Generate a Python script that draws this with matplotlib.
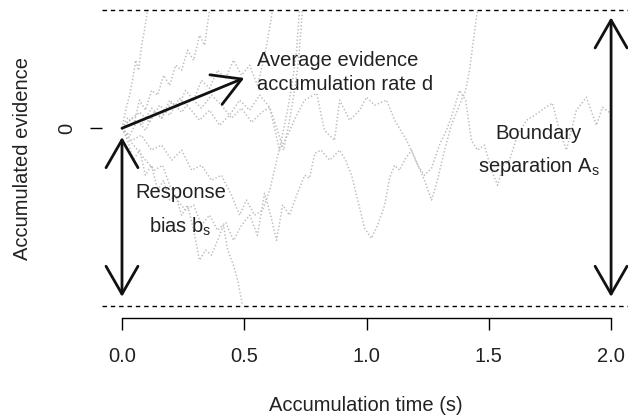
import matplotlib
matplotlib.use("Agg")
import matplotlib.pyplot as plt

plt.rcParams["font.family"] = ["Liberation Sans", "DejaVu Sans"]
plt.rcParams["mathtext.fontset"] = "custom"
plt.rcParams["mathtext.rm"] = "Liberation Sans"
plt.rcParams["mathtext.it"] = "Liberation Sans"

# Diffusion-model parameters (evidence units)
boundary_sep = 1.0      # A_s
bias = 0.6              # b_s: distance of the start point from the lower boundary
drift_end = (0.5, 0.17)  # tip of the mean drift arrow (time, evidence)

x_ticks = [0.0, 0.5, 1.0, 1.5, 2.0]
x_tick_labels = ["0.0", "0.5", "1.0", "1.5", "2.0"]

# Sample accumulation paths: time (s) and accumulated evidence
path1_t = [0, 0.031, 0.064, 0.096, 0.133, 0.166, 0.195, 0.227, 0.260, 0.293, 0.325, 0.358,
           0.391, 0.424, 0.456, 0.489, 0.522, 0.554, 0.583, 0.608, 0.632, 0.657, 0.685, 0.714,
           0.747, 0.767, 0.788, 0.814, 0.849, 0.890, 0.914, 0.939, 0.964, 0.992, 1.020, 1.045,
           1.074, 1.094, 1.115, 1.135, 1.155, 1.184, 1.209, 1.237, 1.266, 1.298, 1.327, 1.352,
           1.380, 1.405, 1.429, 1.454, 1.482, 1.511, 1.536, 1.560, 1.585, 1.617, 1.654, 1.687,
           1.728, 1.760, 1.789, 1.817, 1.838, 1.858, 1.899, 1.940, 1.965, 1.997]
path1_x = [0, -0.041, -0.074, -0.108, -0.142, -0.125, -0.193, -0.243, -0.277, -0.260, -0.328,
           -0.294, -0.345, -0.318, -0.379, -0.328, -0.294, -0.362, -0.220, -0.294, -0.379,
           -0.260, -0.294, -0.227, -0.159, -0.169, -0.085, -0.074, -0.108, -0.074, -0.108,
           -0.159, -0.243, -0.338, -0.372, -0.328, -0.260, -0.169, -0.125, -0.142, -0.108,
           -0.074, -0.125, -0.159, -0.135, -0.057, -0.007, 0.051, 0.128, 0.095, -0.041, -0.074,
           -0.057, -0.142, -0.193, -0.125, -0.108, -0.024, 0.027, 0.044, 0.068, 0.085, -0.007,
           -0.074, -0.007, 0.061, 0.105, 0.010, 0.071, 0.051]

path2_t = [0, 0.015, 0.031, 0.043, 0.056, 0.068, 0.080, 0.092, 0.105]
path2_x = [0, 0.061, 0.112, 0.162, 0.230, 0.196, 0.281, 0.331, 0.4]

path3_t = [0, 0.023, 0.047, 0.072, 0.096, 0.121, 0.146, 0.170, 0.195, 0.219, 0.244, 0.268,
           0.293, 0.317, 0.338, 0.358]
path3_x = [0, 0.034, 0.010, 0.095, 0.061, 0.128, 0.112, 0.179, 0.145, 0.213, 0.196, 0.264,
           0.230, 0.314, 0.281, 0.4]

path4_t = [0, 0.031, 0.064, 0.096, 0.129, 0.162, 0.195, 0.227, 0.260, 0.293, 0.325, 0.358,
           0.391, 0.424, 0.456, 0.489, 0.522, 0.554, 0.579, 0.595, 0.616]
path4_x = [0, -0.024, 0.027, -0.007, 0.054, 0.034, 0.095, 0.068, 0.128, 0.095, 0.162, 0.135,
           0.196, 0.169, 0.230, 0.179, 0.213, 0.145, 0.230, 0.297, 0.4]

path5_t = [0, 0.031, 0.072, 0.113, 0.154, 0.195, 0.235, 0.276, 0.317, 0.358, 0.399, 0.440,
           0.481, 0.522, 0.563, 0.604, 0.636, 0.661, 0.685, 0.706, 0.722, 0.738]
path5_x = [0, 0.027, 0.054, 0.020, 0.078, 0.044, 0.101, 0.068, 0.027, 0.061, 0.010, 0.044,
           0.095, 0.061, 0.112, 0.071, -0.007, -0.074, 0.027, 0.128, 0.230, 0.4]

path6_t = [0, 0.023, 0.047, 0.072, 0.096, 0.121, 0.146, 0.170, 0.195, 0.219, 0.244, 0.268,
           0.293, 0.317, 0.342, 0.366, 0.391, 0.415, 0.432, 0.456, 0.473, 0.493]
path6_x = [0, -0.041, -0.108, -0.074, -0.159, -0.125, -0.210, -0.176, -0.243, -0.227, -0.294,
           -0.260, -0.345, -0.446, -0.412, -0.429, -0.379, -0.328, -0.412, -0.463, -0.514, -0.6]

path7_t = [0, 0.039, 0.080, 0.121, 0.162, 0.203, 0.244, 0.285, 0.325, 0.366, 0.407, 0.448,
           0.489, 0.530, 0.571, 0.604, 0.644, 0.677, 0.714, 0.747, 0.796, 0.828, 0.869, 0.890,
           0.931, 0.972, 1.000, 1.033, 1.082, 1.115, 1.164, 1.196, 1.237, 1.266, 1.290, 1.319,
           1.347, 1.380, 1.405, 1.421, 1.437, 1.454]
path7_x = [0, 0.034, 0.010, 0.068, 0.034, 0.088, 0.054, 0.101, 0.068, 0.112, 0.078, 0.034,
           0.068, 0.020, 0.054, 0.071, -0.074, -0.024, 0.044, 0.095, 0.118, -0.007, -0.041,
           0.095, 0.027, 0.061, 0.105, 0.078, 0.095, 0.027, -0.041, -0.098, -0.176, -0.243,
           -0.176, -0.074, 0.010, 0.078, 0.128, 0.196, 0.297, 0.4]

path8_t = [0, 0.039, 0.080, 0.121, 0.162, 0.203, 0.244, 0.285, 0.325, 0.366, 0.407, 0.448,
           0.481, 0.509, 0.542, 0.575, 0.604, 0.628, 0.652, 0.677, 0.698, 0.714, 0.726]
path8_x = [0, -0.041, -0.024, -0.074, -0.057, -0.108, -0.074, -0.142, -0.125, -0.176, -0.159,
           -0.227, -0.294, -0.243, -0.294, -0.277, -0.210, -0.125, -0.041, 0.061, 0.162,
           0.264, 0.4]

paths = [(path1_t, path1_x), (path2_t, path2_x), (path3_t, path3_x), (path4_t, path4_x),
         (path5_t, path5_x), (path6_t, path6_x), (path7_t, path7_x), (path8_t, path8_x)]

upper = boundary_sep - bias
lower = -bias

fig = plt.figure(figsize=(6.28, 4.19), dpi=100)
ax = fig.add_axes([0.1631, 0.2422, 0.8411, 0.7623])
ax.set_xlim(-0.08, 2.08)
ax.set_ylim(-0.64, 0.44)

for t, x in paths:
    ax.plot(t, x, color="#BDBDBD", lw=1.1, linestyle=(0, (0.9, 1.4)), zorder=1)

ax.axhline(upper, color="black", lw=1, linestyle=(0, (3.2, 2.8)), zorder=2)
ax.axhline(lower, color="black", lw=1, linestyle=(0, (3.2, 2.8)), zorder=2)

head = "head_length=20,head_width=11.5"
arrow_kw = dict(color="#111111", lw=2, shrinkA=0, shrinkB=0, mutation_scale=1)
ax.annotate("", xy=drift_end, xytext=(0, 0),
            arrowprops=dict(arrowstyle="->," + head, **arrow_kw), zorder=3)
ax.annotate("", xy=(0, -0.03), xytext=(0, lower + 0.03),
            arrowprops=dict(arrowstyle="<->," + head, **arrow_kw), zorder=3)
ax.annotate("", xy=(2.0, upper - 0.025), xytext=(2.0, lower + 0.03),
            arrowprops=dict(arrowstyle="<->," + head, **arrow_kw), zorder=3)

fs = 14.5
tc = "#222222"
ax.text(0.554, 0.210, "Average evidence", ha="left", va="baseline", fontsize=fs, color=tc)
ax.text(0.554, 0.128, "accumulation rate d", ha="left", va="baseline", fontsize=fs, color=tc)
ax.text(0.242, -0.237, "Response", ha="center", va="baseline", fontsize=fs, color=tc)
ax.text(0.240, -0.352, r"bias $\mathregular{b_s}$", ha="center", va="baseline", fontsize=fs,
        color=tc)
ax.text(1.703, -0.037, "Boundary", ha="center", va="baseline", fontsize=fs, color=tc)
ax.text(1.703, -0.149, r"separation $\mathregular{A_s}$", ha="center", va="baseline",
        fontsize=fs, color=tc)

for side in ["top", "right", "left"]:
    ax.spines[side].set_visible(False)
ax.spines["bottom"].set_bounds(0, 2)
ax.spines["bottom"].set_linewidth(1)

ax.set_xticks(x_ticks)
ax.set_xticklabels(x_tick_labels)
ax.set_yticks([0])
ax.set_yticklabels(["0"])
ax.tick_params(axis="both", direction="out", length=8.5, width=1,
               labelsize=fs, colors="black", labelcolor=tc)
ax.tick_params(axis="x", pad=13)
ax.tick_params(axis="y", pad=10, labelrotation=90)
for lab in ax.get_yticklabels():
    lab.set_va("center")

fig.text(366 / 628, 1 - 405 / 419, "Accumulation time (s)", ha="center", va="center",
         fontsize=fs, color=tc)
fig.text(23 / 628, 1 - 158 / 419, "Accumulated evidence", ha="center", va="center",
         rotation=90, fontsize=fs, color=tc)

fig.savefig("out.png", dpi=100)
